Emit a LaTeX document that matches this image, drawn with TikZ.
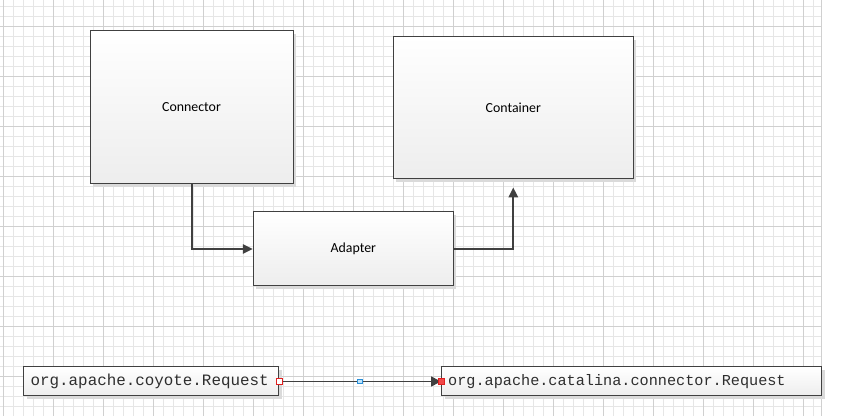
\documentclass[tikz,border=0pt]{standalone}
\usepackage{fontspec}
\setmainfont{Carlito}
\setmonofont{Liberation Mono}
\usetikzlibrary{arrows.meta,calc}
\definecolor{gridminor}{HTML}{E6E6E6}
\definecolor{gridmajor}{HTML}{D0D0D0}
\definecolor{edgecol}{HTML}{404040}
\definecolor{shadowcol}{HTML}{DADADA}
\definecolor{handlered}{HTML}{E02020}
\definecolor{handlefill}{HTML}{F04848}
\definecolor{handleblue}{HTML}{2A8FD8}
\definecolor{handlebluefill}{HTML}{BFE3FA}
\begin{document}
\begin{tikzpicture}[x=0.75pt,y=-0.75pt,
  box/.style={draw=edgecol, line width=0.75pt, top color=white, bottom color=black!7,
    preaction={draw=none, fill=shadowcol, transform canvas={shift={(2.25pt,-2.25pt)}}},
    inner sep=0pt},
  bigbox/.style={box, font=\fontsize{10.4pt}{12pt}\selectfont},
  codebox/.style={box, align=left, inner xsep=5pt, minimum height=21.75pt, text=black!82},
  flow/.style={draw=edgecol, line width=1.5pt, -{Triangle[length=7.5pt,width=7pt]}},
  flowthin/.style={draw=edgecol, line width=1.2pt, -{Triangle[length=7.5pt,width=7.5pt]}},
  handle/.style={draw=handlered, fill=white, line width=0.7pt, minimum size=4.5pt, inner sep=0pt},
  handleend/.style={draw=handlered, fill=handlefill, line width=0.7pt, minimum size=4.5pt, inner sep=0pt},
  handlemid/.style={draw=handleblue, fill=handlebluefill, line width=0.6pt, minimum size=3.6pt, inner sep=0pt}
]
\useasboundingbox (0,0) rectangle (843,416);
\fill[white] (0,0) rectangle (843,416);
% grid
\foreach \gx in {0,...,81} {
  \pgfmathsetmacro{\xx}{3.3+10*\gx}
  \draw[gridminor, line width=0.6pt] (\xx,0) -- (\xx,416);
}
\foreach \gy in {0,...,40} {
  \pgfmathsetmacro{\yy}{6.7+10*\gy}
  \draw[gridminor, line width=0.6pt] (0,\yy) -- (821,\yy);
}
\foreach \gx in {0,...,16} {
  \pgfmathsetmacro{\xx}{3.3+50*\gx}
  \draw[gridmajor, line width=0.6pt] (\xx,0) -- (\xx,416);
}
\foreach \gy in {0,...,8} {
  \pgfmathsetmacro{\yy}{26.7+50*\gy}
  \draw[gridmajor, line width=0.6pt] (0,\yy) -- (821,\yy);
}
\draw[gridmajor, line width=0.6pt] (821,0) -- (821,416);

% boxes
\node[bigbox, minimum width=152.25pt, minimum height=114.75pt] (conn) at (191.5,107.5) {Connector};
\node[bigbox, minimum width=180pt, minimum height=106.5pt] (cont) at (513.3,108) {Container};
\node[bigbox, minimum width=150pt, minimum height=55.5pt] (adap) at (353.3,249) {Adapter};

\node[codebox, font=\ttfamily\fontsize{11.9pt}{13pt}\selectfont, minimum width=191.25pt, text width=181pt, anchor=west] (req1) at (23.3,381.5) {org.apache.coyote.Request};
\node[codebox, font=\ttfamily\fontsize{11.4pt}{13pt}\selectfont, minimum width=285pt, text width=275pt, anchor=west] (req2) at (441,381.5) {org.apache.catalina.connector.Request};

% connectors
\coordinate (conttip) at ($(cont.south)+(0,8)$);
\draw[flow] (conn.south) |- (adap.west);
\draw[flow] (adap.east) -| (conttip);
\draw[flowthin] (req1.east) -- (req2.west);

% selection handles
\node[handle] (hs) at (req1.east) {};
\node[handlemid] (hm) at ($(req1.east)!0.5!(req2.west)$) {};
\node[handleend] (he) at (req2.west) {};
\end{tikzpicture}
\end{document}
